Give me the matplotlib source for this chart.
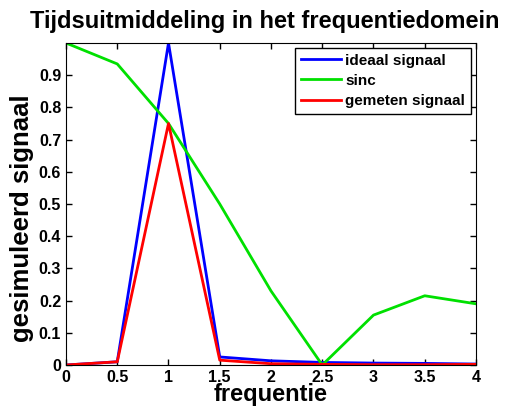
import matplotlib
matplotlib.use("Agg")
import matplotlib.pyplot as plt

plt.rcParams['font.family'] = ['Liberation Sans', 'DejaVu Sans']

# data
freq = [0, 0.5, 1, 1.5, 2, 2.5, 3, 3.5, 4]
ideaal = [0.0, 0.01, 1.0, 0.025, 0.013, 0.008, 0.006, 0.005, 0.003]
sinc = [1.0, 0.935, 0.75, 0.5, 0.23, 0.0, 0.155, 0.215, 0.19]
gemeten = [0.0, 0.01, 0.75, 0.015, 0.004, 0.002, 0.001, 0.001, 0.002]

xticks = [0, 0.5, 1, 1.5, 2, 2.5, 3, 3.5, 4]
xticklabels = ['0', '0.5', '1', '1.5', '2', '2.5', '3', '3.5', '4']
yticks = [0, 0.1, 0.2, 0.3, 0.4, 0.5, 0.6, 0.7, 0.8, 0.9]
yticklabels = ['0', '0.1', '0.2', '0.3', '0.4', '0.5', '0.6', '0.7', '0.8', '0.9']

fig = plt.figure(figsize=(5.06, 4.09), dpi=100)
ax = fig.add_axes([66/506, 1 - 365/409, 410/506, 322/409])

ax.plot(freq, ideaal, color='#0000ff', lw=2, label='ideaal signaal')
ax.plot(freq, sinc, color='#00e000', lw=2, label='sinc')
ax.plot(freq, gemeten, color='#ff0000', lw=2, label='gemeten signaal')

ax.set_xlim(0, 4)
ax.set_ylim(0, 1)
ax.set_xticks(xticks)
ax.set_xticklabels(xticklabels)
ax.set_yticks(yticks)
ax.set_yticklabels(yticklabels)
ax.tick_params(direction='in', length=4, labelsize=11.5, top=True, right=True, width=1)
for lbl in ax.get_xticklabels() + ax.get_yticklabels():
    lbl.set_fontweight('bold')

ax.set_title('Tijdsuitmiddeling in het frequentiedomein', fontsize=17, fontweight='bold',
             pad=11, x=0.485)
ax.set_xlabel('frequentie', fontsize=17, fontweight='bold', labelpad=-1)
ax.set_ylabel('gesimuleerd signaal', fontsize=18.5, fontweight='bold')
ax.yaxis.set_label_coords(-0.078, 0.455)

leg = ax.legend(loc='upper right', fancybox=False, framealpha=1, edgecolor='black',
                prop={'weight': 'bold', 'size': 11}, handlelength=2.6,
                handletextpad=0.3, borderaxespad=0.3, labelspacing=0.4)
leg.get_frame().set_linewidth(1)

fig.savefig('out.png', dpi=100)
